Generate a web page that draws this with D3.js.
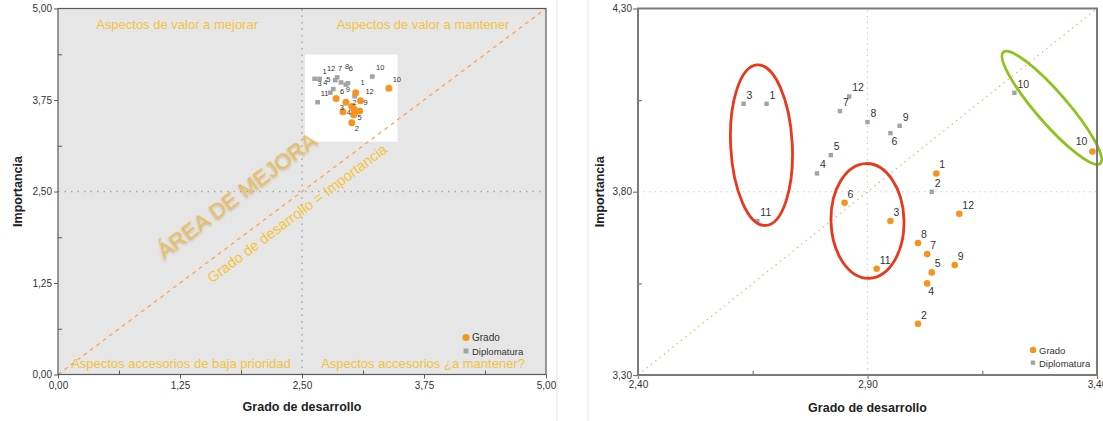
<!DOCTYPE html>
<html><head><meta charset="utf-8">
<script src="https://cdn.jsdelivr.net/npm/d3@7"></script>
<style>
html,body{margin:0;padding:0;background:#fff;}
svg{display:block;font-family:"Liberation Sans",Arial,sans-serif;}
</style></head>
<body>
<svg id="c" width="1103" height="421"></svg>
<script>
// ---------- DATA ----------
const ids     = [1,2,3,4,5,6,7,8,9,10,11,12];
const gradoX  = [3.05,3.01,2.95,3.03,3.04,2.85,3.03,3.01,3.09,3.39,2.92,3.10];
const gradoY  = [3.85,3.44,3.72,3.55,3.58,3.77,3.63,3.66,3.60,3.91,3.59,3.74];
const diploX  = [2.68,3.04,2.63,2.79,2.82,2.95,2.84,2.90,2.97,3.22,2.66,2.86];
const diploY  = [4.04,3.80,4.04,3.85,3.90,3.96,4.02,3.99,3.98,4.07,3.72,4.06];
const seriesNames = ["Grado","Diplomatura"];
const leftTicks  = [0,1.25,2.5,3.75,5];
const leftMinor  = [0.625,1.875,3.125,4.375];
const rightXTicks = [2.4,2.9,3.4];
const rightYTicks = [3.3,3.8,4.3];
const rightXMinor = [2.65,3.15];
const rightYMinor = [3.55,4.05];
const quadrantLabels = ["Aspectos de valor a mejorar","Aspectos de valor a mantener",
                        "Aspectos accesorios de baja prioridad","Aspectos accesorios ¿a mantener?"];
const areaLabel = "ÁREA DE MEJORA";
const diagLabel = "Grado de desarrollo = Importancia";
const xTitle = "Grado de desarrollo", yTitle = "Importancia";

// ---------- STYLE / LAYOUT ----------
const ORANGE = "#f7941d", GREY = "#a3a3a3", TXT = "#333";
const locale = d3.formatLocale({decimal:",",thousands:".",grouping:[3],currency:["","€"]});
const fmt = locale.format(".2f");
const rightPlace = {"Diplomatura-6":"s","Grado-4":"s","Grado-10":"w"};
const insetOff = {
  "Diplomatura":[[5,-7],[0,6],[5,5],[-5,-10],[-5,-10],[5,-16],[5,-12],[6,-16],[0,6],[8,-9],[7,-9],[-6,-9]],
  "Grado":[[7,-10],[5,6],[-4,5],[-5,-2],[5,5],[6,-7],null,null,[6,-8],[8,-9],null,[9,-9]]
};

const grado = ids.map((id,i)=>({id, x:gradoX[i], y:gradoY[i], s:"Grado"}));
const diplo = ids.map((id,i)=>({id, x:diploX[i], y:diploY[i], s:"Diplomatura"}));

const svg = d3.select("#c");
const defs = svg.append("defs");
const f = defs.append("filter").attr("id","sh").attr("x","-20%").attr("y","-20%").attr("width","140%").attr("height","140%");
f.append("feDropShadow").attr("dx",-1).attr("dy",1.2).attr("stdDeviation",1.1)
 .attr("flood-color","#9a7530").attr("flood-opacity",0.45);

[557,588].forEach(x=>svg.append("line").attr("x1",x).attr("x2",x).attr("y1",0).attr("y2",421)
  .attr("stroke","#e4e4e4").attr("stroke-width",1));

// ================= LEFT CHART =================
const xL = d3.scaleLinear([0,5],[58,546]);
const yL = d3.scaleLinear([0,5],[374.5,8.5]);
const L = svg.append("g");
L.append("rect").attr("x",xL(0)).attr("y",yL(5)).attr("width",xL(5)-xL(0)).attr("height",yL(0)-yL(5))
  .attr("fill","#e6e6e6");
L.append("rect").attr("x",xL(2.53)).attr("y",yL(4.37)).attr("width",xL(3.48)-xL(2.53)).attr("height",yL(3.18)-yL(4.37))
  .attr("fill","#fff");
L.append("line").attr("x1",xL(2.5)).attr("x2",xL(2.5)).attr("y1",yL(0)).attr("y2",yL(5))
  .attr("stroke","#a8a8a8").attr("stroke-width",1.5).attr("stroke-dasharray","1.5,5");
L.append("line").attr("x1",xL(0)).attr("x2",xL(5)).attr("y1",yL(2.5)).attr("y2",yL(2.5))
  .attr("stroke","#a8a8a8").attr("stroke-width",1.5).attr("stroke-dasharray","1.5,5");
L.append("line").attr("x1",xL(0)).attr("y1",yL(0)).attr("x2",xL(5)).attr("y2",yL(5))
  .attr("stroke","#f6a75a").attr("stroke-width",1.3).attr("stroke-dasharray","4,4");
const qPos = [[1.22,4.78],[3.74,4.78],[1.26,0.15],[3.74,0.15]];
quadrantLabels.forEach((t,i)=>L.append("text").attr("x",xL(qPos[i][0])).attr("y",yL(qPos[i][1]))
  .attr("text-anchor","middle").attr("dominant-baseline","central").attr("font-size",13)
  .attr("fill","#f3c23f").text(t));
const angle = -Math.atan2(yL(0)-yL(5), xL(5)-xL(0))*180/Math.PI;
L.append("text").attr("transform",`translate(${xL(1.83)},${yL(2.45)}) rotate(${angle})`)
  .attr("text-anchor","middle").attr("dominant-baseline","central").attr("font-size",22)
  .attr("fill","#e8bd62").attr("filter","url(#sh)").text(areaLabel);
L.append("text").attr("transform",`translate(${xL(2.45)},${yL(2.2)}) rotate(${angle})`)
  .attr("text-anchor","middle").attr("dominant-baseline","central").attr("font-size",14.5)
  .attr("fill","#f5c438").text(diagLabel);
L.selectAll(".ls").data(diplo).join("rect").attr("x",d=>xL(d.x)-2.4).attr("y",d=>yL(d.y)-2.2)
  .attr("width",4.8).attr("height",4.4).attr("fill",GREY);
L.selectAll(".lc").data(grado).join("circle").attr("cx",d=>xL(d.x)).attr("cy",d=>yL(d.y)).attr("r",3.5)
  .attr("fill",ORANGE);
[...diplo,...grado].forEach(d=>{
  const o = insetOff[d.s][d.id-1]; if(!o) return;
  L.append("text").attr("x",xL(d.x)+o[0]).attr("y",yL(d.y)+o[1]).attr("text-anchor","middle")
   .attr("dominant-baseline","central").attr("font-size",7.5).attr("fill",TXT).text(d.id);
});
L.append("rect").attr("x",xL(0)).attr("y",yL(5)).attr("width",xL(5)-xL(0)).attr("height",yL(0)-yL(5))
  .attr("fill","none").attr("stroke","#5a5a5a").attr("stroke-width",1.2);
function styleAxis(g){g.select(".domain").remove();g.selectAll("line").attr("stroke","#5a5a5a");
  g.selectAll("text").attr("fill",TXT).attr("font-size",10).attr("font-family","Liberation Sans,Arial,sans-serif");}
L.append("g").attr("transform",`translate(0,${yL(0)})`)
  .call(d3.axisBottom(xL).tickValues(leftTicks).tickFormat(fmt).tickSize(4).tickPadding(3)).call(styleAxis);
L.append("g").attr("transform",`translate(${xL(0)},0)`)
  .call(d3.axisLeft(yL).tickValues(leftTicks).tickFormat(fmt).tickSize(4).tickPadding(2)).call(styleAxis);
L.append("g").attr("transform",`translate(0,${yL(0)})`)
  .call(d3.axisBottom(xL).tickValues(leftMinor).tickFormat("").tickSize(-4)).call(styleAxis);
L.append("g").attr("transform",`translate(${xL(0)},0)`)
  .call(d3.axisLeft(yL).tickValues(leftMinor).tickFormat("").tickSize(-4)).call(styleAxis);
L.append("text").attr("x",(xL(0)+xL(5))/2).attr("y",411).attr("text-anchor","middle")
  .attr("font-size",12.5).attr("font-weight","bold").attr("fill","#222").text(xTitle);
L.append("text").attr("transform",`translate(22,${(yL(0)+yL(5))/2}) rotate(-90)`).attr("text-anchor","middle")
  .attr("font-size",12.5).attr("font-weight","bold").attr("fill","#222").text(yTitle);
L.append("circle").attr("cx",466).attr("cy",337.5).attr("r",3.6).attr("fill",ORANGE);
L.append("rect").attr("x",463.5).attr("y",348.5).attr("width",5).attr("height",5).attr("fill",GREY);
L.append("text").attr("x",472).attr("y",337.5).attr("dominant-baseline","central").attr("font-size",10).attr("fill",TXT).text(seriesNames[0]);
L.append("text").attr("x",472).attr("y",351).attr("dominant-baseline","central").attr("font-size",9.5).attr("fill",TXT).text(seriesNames[1]);

// ================= RIGHT CHART =================
const xR = d3.scaleLinear([2.4,3.4],[638,1097]);
const yR = d3.scaleLinear([3.3,4.3],[375,8.5]);
const R = svg.append("g");
R.append("line").attr("x1",xR(2.9)).attr("x2",xR(2.9)).attr("y1",yR(3.3)).attr("y2",yR(4.3))
  .attr("stroke","#cfcfcf").attr("stroke-width",1.2).attr("stroke-dasharray","1.5,4");
R.append("line").attr("x1",xR(2.4)).attr("x2",xR(3.4)).attr("y1",yR(3.8)).attr("y2",yR(3.8))
  .attr("stroke","#cfcfcf").attr("stroke-width",1.2).attr("stroke-dasharray","1.5,4");
R.append("line").attr("x1",xR(2.4)).attr("y1",yR(3.3)).attr("x2",xR(3.4)).attr("y2",yR(4.3))
  .attr("stroke","#f8b478").attr("stroke-width",1.3).attr("stroke-dasharray","1.5,4");
R.selectAll(".rs").data(diplo).join("rect").attr("x",d=>xR(d.x)-2.2).attr("y",d=>yR(d.y)-2.2)
  .attr("width",4.4).attr("height",4.4).attr("fill",GREY);
R.selectAll(".rc").data(grado).join("circle").attr("cx",d=>xR(d.x)).attr("cy",d=>yR(d.y)).attr("r",3.3)
  .attr("fill",ORANGE);
[...diplo,...grado].forEach(d=>{
  const p = rightPlace[d.s+"-"+d.id] || "ne";
  let dx=3, dy=-5, anchor="start";
  if(p==="s"){dx=1; dy=12;}
  if(p==="w"){dx=-5; dy=-6; anchor="end";}
  R.append("text").attr("x",xR(d.x)+dx).attr("y",yR(d.y)+dy).attr("text-anchor",anchor)
   .attr("font-size",10.5).attr("fill",TXT).text(d.id);
});
const ellipses = [
  {p1:[2.660,4.146], p2:[2.678,3.708], b:30.8, c:"#e8391c"},
  {p1:[2.8965,3.877], p2:[2.9035,3.564], b:36.5, c:"#e8391c"},
  {p1:[3.196,4.181], p2:[3.407,3.877], b:15.5, c:"#8dc21f"}
];
ellipses.forEach(e=>{
  const x1=xR(e.p1[0]), y1=yR(e.p1[1]), x2=xR(e.p2[0]), y2=yR(e.p2[1]);
  const cx=(x1+x2)/2, cy=(y1+y2)/2, a=Math.hypot(x2-x1,y2-y1)/2;
  const ang=Math.atan2(y2-y1,x2-x1)*180/Math.PI;
  R.append("ellipse").attr("transform",`translate(${cx},${cy}) rotate(${ang})`)
   .attr("rx",a).attr("ry",e.b).attr("fill","none").attr("stroke",e.c).attr("stroke-width",2.8);
});
R.append("rect").attr("x",xR(2.4)).attr("y",yR(4.3)).attr("width",xR(3.4)-xR(2.4)).attr("height",yR(3.3)-yR(4.3))
  .attr("fill","none").attr("stroke","#7a7a7a").attr("stroke-width",2);
function styleAxisR(g){g.select(".domain").remove();g.selectAll("line").attr("stroke","#7a7a7a").attr("stroke-width",1.2);
  g.selectAll("text").attr("fill",TXT).attr("font-size",10).attr("font-family","Liberation Sans,Arial,sans-serif");}
R.append("g").attr("transform",`translate(0,${yR(3.3)})`)
  .call(d3.axisBottom(xR).tickValues(rightXTicks).tickFormat(fmt).tickSize(4).tickPadding(2)).call(styleAxisR);
R.append("g").attr("transform",`translate(${xR(2.4)},0)`)
  .call(d3.axisLeft(yR).tickValues(rightYTicks).tickFormat(fmt).tickSize(5).tickPadding(1)).call(styleAxisR);
R.append("g").attr("transform",`translate(0,${yR(3.3)})`)
  .call(d3.axisBottom(xR).tickValues(rightXMinor).tickFormat("").tickSize(-4)).call(styleAxisR);
R.append("g").attr("transform",`translate(${xR(2.4)},0)`)
  .call(d3.axisLeft(yR).tickValues(rightYMinor).tickFormat("").tickSize(-4)).call(styleAxisR);
R.append("text").attr("x",(xR(2.4)+xR(3.4))/2).attr("y",412).attr("text-anchor","middle")
  .attr("font-size",12.5).attr("font-weight","bold").attr("fill","#222").text(xTitle);
R.append("text").attr("transform",`translate(604,${(yR(3.3)+yR(4.3))/2}) rotate(-90)`).attr("text-anchor","middle")
  .attr("font-size",12.5).attr("font-weight","bold").attr("fill","#222").text(yTitle);
R.append("circle").attr("cx",1033).attr("cy",350).attr("r",3.2).attr("fill",ORANGE);
R.append("rect").attr("x",1030.8).attr("y",360.5).attr("width",4.4).attr("height",4.4).attr("fill",GREY);
R.append("text").attr("x",1039).attr("y",350.5).attr("dominant-baseline","central").attr("font-size",9.5).attr("fill",TXT).text(seriesNames[0]);
R.append("text").attr("x",1039).attr("y",363).attr("dominant-baseline","central").attr("font-size",9.5).attr("fill",TXT).text(seriesNames[1]);
</script>
</body></html>
